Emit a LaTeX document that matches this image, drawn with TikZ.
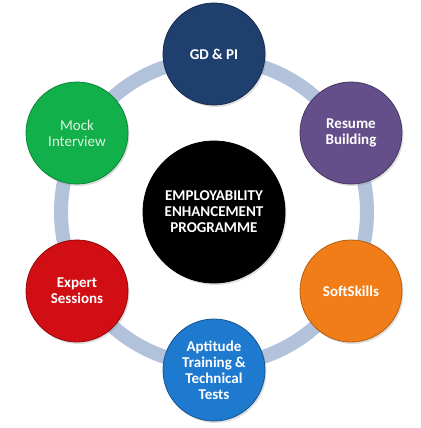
\documentclass[tikz,border=0pt]{standalone}
\usepackage{fontspec}
\setmainfont{Carlito}
\usetikzlibrary{shadows}

\definecolor{ringblue}{HTML}{B3C2DB}
\definecolor{gdblue}{HTML}{1F3F6E}
\definecolor{resumepurple}{HTML}{654F8A}
\definecolor{softorange}{HTML}{F07D18}
\definecolor{aptblue}{HTML}{1E7ACF}
\definecolor{expertred}{HTML}{D10E14}
\definecolor{mockgreen}{HTML}{12B04B}
\definecolor{mocktext}{HTML}{DDF3DF}

\tikzset{
  bubble/.style={circle, minimum size=102pt, inner sep=0pt, align=center,
    text=white, line width=0.8pt,
    font=\bfseries\fontsize{15}{16}\selectfont,
    drop shadow={opacity=0.25, shadow xshift=1.5pt, shadow yshift=-2pt}},
  hubbubble/.style={bubble, minimum size=142pt, fill=black, draw=black},
  ringline/.style={draw=ringblue, line width=14pt}
}

\begin{document}
\begin{tikzpicture}[x=1pt, y=-1pt]
\useasboundingbox (0,0) rectangle (420,428);
% Ring
\coordinate (mid) at (214,212);
\draw[ringline] (mid) circle[radius=153pt];
% Centre
\node[hubbubble] (hub) at (mid) {EMPLOYABILITY\\ENHANCEMENT\\PROGRAMME};
% Outer circles
\node[bubble, fill=gdblue, draw=gdblue!70!black] (gd) at (214,54) {GD \& PI};
\node[bubble, fill=resumepurple, draw=resumepurple!70!black] (resume) at (351,133) {Resume\\Building};
\node[bubble, fill=softorange, draw=softorange!75!black] (soft) at (351,291) {SoftSkills};
\node[bubble, fill=aptblue, draw=aptblue!70!black] (apt) at (214,370) {Aptitude\\Training \&\\Technical\\Tests};
\node[bubble, fill=expertred, draw=expertred!70!black] (expert) at (77,291) {Expert\\Sessions};
\node[bubble, fill=mockgreen, draw=mockgreen!75!black, text=mocktext,
  font=\fontsize{15}{16}\selectfont] (mock) at (77,133) {Mock\\Interview};
\end{tikzpicture}
\end{document}
